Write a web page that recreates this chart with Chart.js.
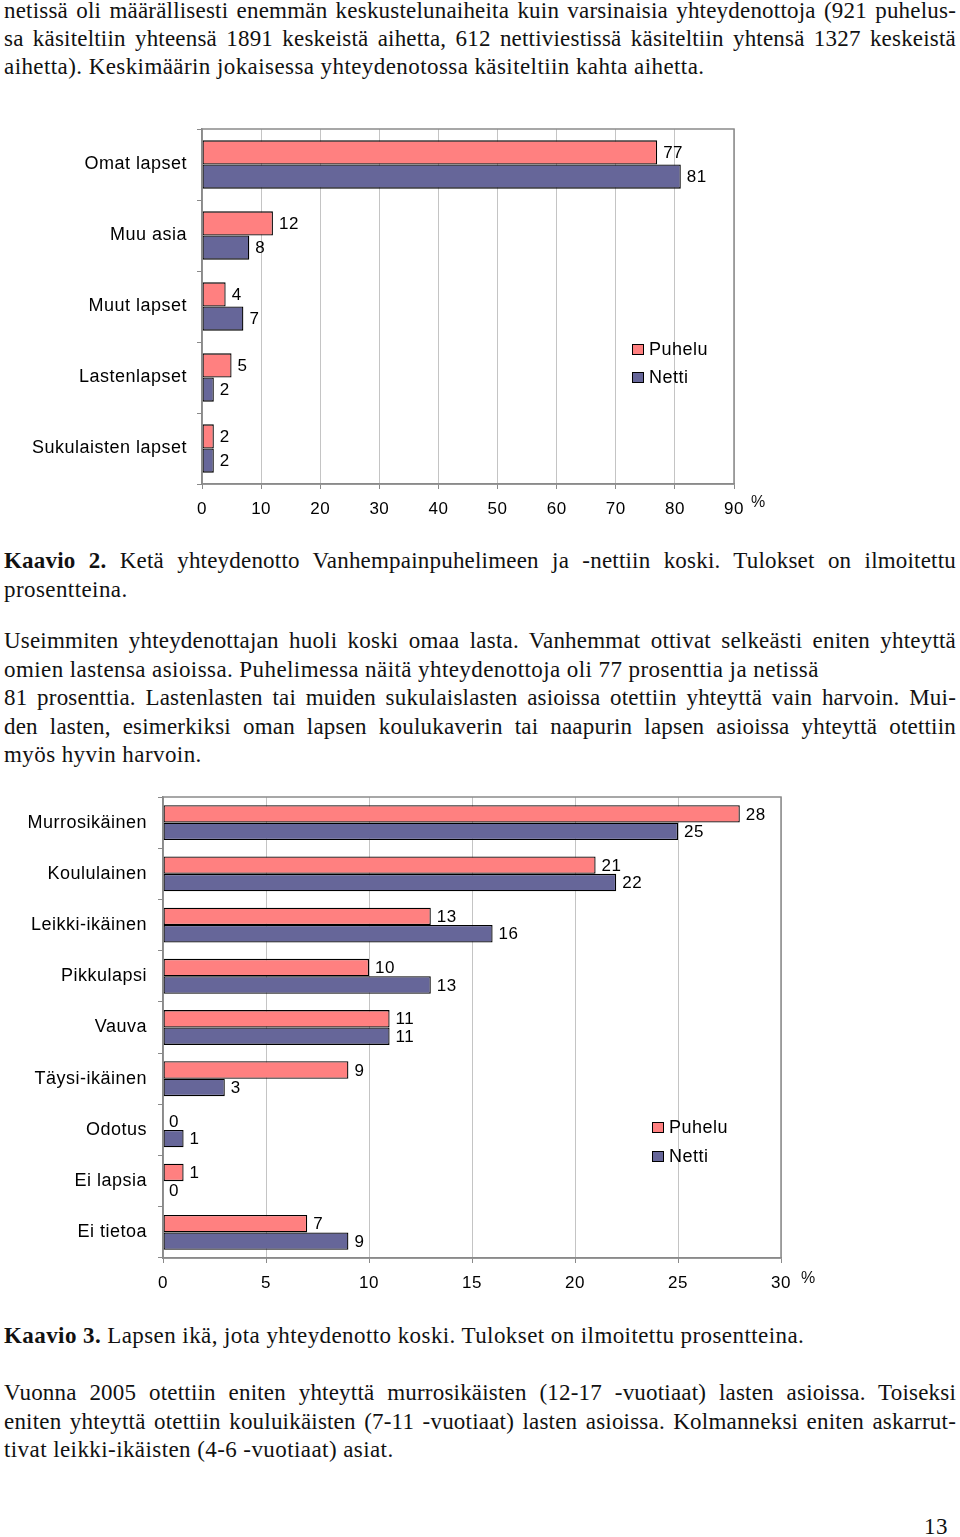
<!DOCTYPE html>
<html>
<head>
<meta charset="utf-8">
<script src="https://cdn.jsdelivr.net/npm/chart.js@4.4.1/dist/chart.umd.min.js"></script>
<style>
  body { margin: 0; width: 960px; height: 1537px; position: relative; background: #fff; color: #111; font-family: "Liberation Serif", serif; overflow: hidden; }
  .r { position: absolute; left: 4px; width: 952px; font-size: 23px; letter-spacing: 0.42px; line-height: 24px; white-space: nowrap; }
  .j { text-align: justify; text-align-last: justify; white-space: normal; letter-spacing: 0.2px; }
  canvas { position: absolute; left: 0; }
  .pros { position: absolute; font-family: "Liberation Sans", sans-serif; font-size: 16px; }
</style>
</head>
<body>

<div class="r j" style="top:-1px">netissä oli määrällisesti enemmän keskustelunaiheita kuin varsinaisia yhteydenottoja (921 puhelus-</div>
<div class="r j" style="top:27px">sa käsiteltiin yhteensä 1891 keskeistä aihetta, 612 nettiviestissä käsiteltiin yhtensä 1327 keskeistä</div>
<div class="r" style="top:55px">aihetta). Keskimäärin jokaisessa yhteydenotossa käsiteltiin kahta aihetta.</div>

<canvas id="kaavio2" width="780" height="420" style="top:110px"></canvas>
<div class="pros" style="left:751px;top:493px">%</div>

<div class="r j" style="top:549px"><b>Kaavio 2.</b> Ketä yhteydenotto Vanhempainpuhelimeen ja -nettiin koski. Tulokset on ilmoitettu</div>
<div class="r" style="top:578px">prosentteina.</div>

<div class="r j" style="top:629px">Useimmiten yhteydenottajan huoli koski omaa lasta. Vanhemmat ottivat selkeästi eniten yhteyttä</div>
<div class="r" style="top:658px">omien lastensa asioissa. Puhelimessa näitä yhteydenottoja oli 77 prosenttia ja netissä</div>
<div class="r j" style="top:686px">81 prosenttia. Lastenlasten tai muiden sukulaislasten asioissa otettiin yhteyttä vain harvoin. Mui-</div>
<div class="r j" style="top:715px">den lasten, esimerkiksi oman lapsen koulukaverin tai naapurin lapsen asioissa yhteyttä otettiin</div>
<div class="r" style="top:743px">myös hyvin harvoin.</div>

<canvas id="kaavio3" width="840" height="520" style="top:785px"></canvas>
<div class="pros" style="left:801px;top:1269px">%</div>

<div class="r" style="top:1324px"><b>Kaavio 3.</b> Lapsen ikä, jota yhteydenotto koski. Tulokset on ilmoitettu prosentteina.</div>

<div class="r j" style="top:1381px">Vuonna 2005 otettiin eniten yhteyttä murrosikäisten (12-17 -vuotiaat) lasten asioissa. Toiseksi</div>
<div class="r j" style="top:1410px">eniten yhteyttä otettiin kouluikäisten (7-11 -vuotiaat) lasten asioissa. Kolmanneksi eniten askarrut-</div>
<div class="r" style="top:1438px">tivat leikki-ikäisten (4-6 -vuotiaat) asiat.</div>

<div class="r" style="top:1515px;left:924px;width:30px">13</div>

<script>
// Kaavio 2
const aiheet = ["Omat lapset", "Muu asia", "Muut lapset", "Lastenlapset", "Sukulaisten lapset"]
const aiheetPuhelu = [77, 12, 4, 5, 2]
const aiheetNetti = [81, 8, 7, 2, 2]

// Kaavio 3
const iat = ["Murrosikäinen", "Koululainen", "Leikki-ikäinen", "Pikkulapsi", "Vauva", "Täysi-ikäinen", "Odotus", "Ei lapsia", "Ei tietoa"]
const ikaPuhelu = [28, 21, 13, 10, 11, 9, 0, 1, 7]
const ikaNetti = [25, 22, 16, 13, 11, 3, 1, 0, 9]

const pinkki = "#ff8080"
const sininen = "#666699"
const fontti = '"Liberation Sans", Arial, sans-serif'

const harvennus = {
    id: "harvennus",
    beforeDraw(chart) {
        chart.ctx.letterSpacing = "0.5px"
    }
}

const arvoTekstit = {
    id: "arvoTekstit",
    afterDatasetsDraw(chart) {
        const ctx = chart.ctx
        ctx.save()
        ctx.font = "17px " + fontti
        ctx.fillStyle = "#000"
        ctx.textBaseline = "middle"
        chart.data.datasets.forEach((ds, i) => {
            chart.getDatasetMeta(i).data.forEach((bar, j) => {
                ctx.fillText(ds.data[j], bar.x + 6, bar.y + 1)
            })
        })
        ctx.restore()
    }
}

const kehys = {
    id: "kehys",
    afterDraw(chart) {
        const a = chart.chartArea
        const ctx = chart.ctx
        ctx.save()
        ctx.strokeStyle = "#8a8a8a"
        ctx.lineWidth = 1.5
        ctx.strokeRect(a.left, a.top, a.right - a.left, a.bottom - a.top)
        // selite
        const s = chart.options.plugins.selite
        ctx.font = "18px " + fontti
        ctx.textBaseline = "middle"
        chart.data.datasets.forEach((ds, i) => {
            const x = a.left + s.x
            const y = a.top + s.y + i * s.rivi
            ctx.fillStyle = ds.backgroundColor
            ctx.fillRect(x, y - 5, 11, 10)
            ctx.strokeStyle = "#000"
            ctx.lineWidth = 1
            ctx.strokeRect(x + 0.5, y - 4.5, 11, 10)
            ctx.fillStyle = "#000"
            ctx.fillText(ds.label, x + 17, y + 1)
        })
        ctx.restore()
    }
}

function teeKaavio(id, nimet, puhelu, netti, opts) {
    new Chart(document.getElementById(id), {
        type: "bar",
        data: {
            labels: nimet,
            datasets: [
                { label: "Puhelu", data: puhelu, backgroundColor: pinkki, borderColor: "#000", borderWidth: 1.3, borderSkipped: false },
                { label: "Netti", data: netti, backgroundColor: sininen, borderColor: "#000", borderWidth: 1.3, borderSkipped: false }
            ]
        },
        options: {
            indexAxis: "y",
            responsive: false,
            animation: false,
            devicePixelRatio: 1,
            categoryPercentage: 0.68,
            barPercentage: 1,
            layout: { padding: { top: opts.ylä, right: opts.oikea, left: 0, bottom: 0 } },
            plugins: {
                legend: { display: false },
                tooltip: { enabled: false },
                selite: opts.selite
            },
            scales: {
                x: {
                    min: 0,
                    max: opts.max,
                    ticks: { stepSize: opts.askel, color: "#000", font: { family: fontti, size: 17 }, padding: 10 },
                    grid: { color: "#c4c4c4", tickLength: 5, tickColor: "#8a8a8a" },
                    border: { color: "#8a8a8a", width: 1.5 },
                    afterFit: (scale) => {
                        scale.height = opts.xKorkeus
                        scale.paddingLeft = 0
                        scale.paddingRight = 0
                    }
                },
                y: {
                    ticks: { color: "#000", font: { family: fontti, size: 18 }, padding: opts.yVäli },
                    grid: { drawOnChartArea: false, tickLength: 5, tickColor: "#8a8a8a" },
                    border: { color: "#8a8a8a", width: 1.5 },
                    afterFit: (scale) => {
                        scale.width = opts.yLeveys
                        scale.paddingTop = 0
                        scale.paddingBottom = 0
                    }
                }
            }
        },
        plugins: [harvennus, arvoTekstit, kehys]
    })
}

teeKaavio("kaavio2", aiheet, aiheetPuhelu, aiheetNetti, {
    max: 90, askel: 10, ylä: 19, oikea: 46, xKorkeus: 46, yLeveys: 202, yVäli: 10,
    selite: { x: 430, y: 220, rivi: 28 }
})

teeKaavio("kaavio3", iat, ikaPuhelu, ikaNetti, {
    max: 30, askel: 5, ylä: 12, oikea: 59, xKorkeus: 47, yLeveys: 163, yVäli: 11,
    selite: { x: 489, y: 330, rivi: 29 }
})
</script>
</body>
</html>
